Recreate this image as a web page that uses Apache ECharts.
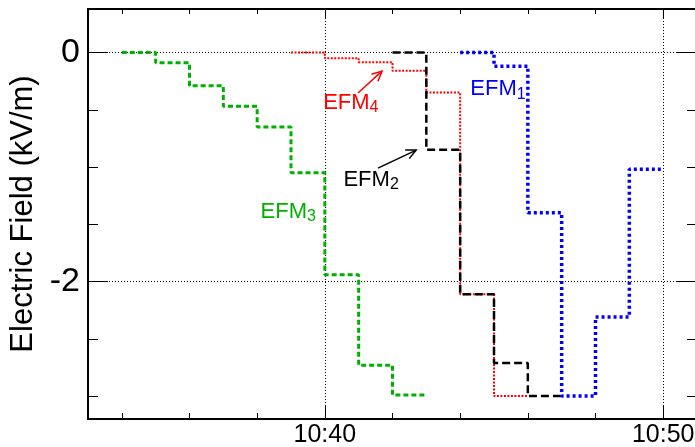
<!DOCTYPE html>
<html>
<head>
<meta charset="utf-8">
<script src="https://cdn.jsdelivr.net/npm/echarts@6/dist/echarts.min.js"></script>
</head>
<body style="margin: 0">
<div id="main" style="width: 695px; height: 447px"></div>
<script type="text/javascript">
    // step values, each value holds from its time until the next one
    var efm1Times = ['10:44', '10:45', '10:46', '10:47', '10:48', '10:49', '10:50'];
    var efm1Values = [0, -0.12, -1.40, -3.0, -2.31, -1.02, -1.02];
    var efm2Times = ['10:42', '10:43', '10:44', '10:45', '10:46', '10:47'];
    var efm2Values = [0, -0.85, -2.11, -2.71, -3.0, -3.0];
    var efm3Times = ['10:34', '10:35', '10:36', '10:37', '10:38', '10:39', '10:40', '10:41', '10:42', '10:43'];
    var efm3Values = [0, -0.09, -0.29, -0.47, -0.65, -1.05, -1.94, -2.73, -2.99, -2.99];
    var efm4Times = ['10:39', '10:40', '10:41', '10:42', '10:43', '10:44', '10:45', '10:46'];
    var efm4Values = [0, -0.05, -0.085, -0.16, -0.35, -2.11, -3.0, -3.0];

    var xLabelTimes = ['10:40', '10:50'];
    var xMinorTimes = ['10:34', '10:36', '10:38', '10:42', '10:44', '10:46', '10:48'];
    var yLabelValues = [0, -2];
    var yMinorValues = [-0.5, -1, -1.5, -2.5, -3];

    // annotation text / arrows, in axis units (minutes of day, kV/m)
    var labelText = ['EFM', 'EFM', 'EFM', 'EFM'];
    var labelSub = ['1', '2', '3', '4'];
    var labelColor = ['#0000ff', '#000000', '#00b000', '#ff0000'];
    var labelPos = [[644.3, -0.32], [640.55, -1.11], [638.1, -1.39], [639.95, -0.44]];
    var arrowFrom = [[640.98, -0.354], [641.57, -1.009]];
    var arrowTo = [[641.69, -0.162], [642.70, -0.852]];
    var arrowColor = ['#ff0000', '#000000'];

    var FONT = 'Liberation Sans, Arial, Helvetica, sans-serif';

    function toMin(s) {
        var p = s.split(':');
        return (+p[0]) * 60 + (+p[1]);
    }
    function fmtTime(v) {
        var h = Math.floor(v / 60), m = Math.round(v - h * 60);
        return h + ':' + (m < 10 ? '0' : '') + m;
    }
    function pairs(times, values) {
        return times.map(function (t, i) { return [toMin(t), values[i]]; });
    }

    var xMin = toMin('10:33'), xMax = toMin('10:51');

    function xAxisDef(pos, ticks, len, main) {
        return {
            type: 'value', position: pos, min: xMin, max: xMax,
            axisLine: { show: main || pos === 'top', onZero: false, lineStyle: { color: '#000', width: 2 } },
            axisTick: { customValues: ticks, inside: true, length: len, lineStyle: { color: '#000', width: 1 } },
            axisLabel: main ? {
                customValues: ticks, formatter: fmtTime, fontSize: 25, color: '#000',
                fontFamily: FONT, margin: 4
            } : { show: false },
            splitLine: { show: !!main, lineStyle: { color: '#000', width: 1, type: [1, 2] } }
        };
    }
    function yAxisDef(pos, ticks, len, main) {
        return {
            type: 'value', position: pos, min: -3.2, max: 0.38,
            name: main ? 'Electric Field (kV/m)' : '',
            nameLocation: 'middle', nameRotate: 90, nameGap: 47,
            nameTextStyle: { fontSize: 31, color: '#000', fontFamily: FONT },
            axisLine: { show: main || pos === 'right', onZero: false, lineStyle: { color: '#000', width: 2 } },
            axisTick: { customValues: ticks, inside: true, length: len, lineStyle: { color: '#000', width: 1 } },
            axisLabel: main ? {
                customValues: ticks, fontSize: 34, color: '#000', fontFamily: FONT, margin: 8
            } : { show: false },
            splitLine: { show: !!main, lineStyle: { color: '#000', width: 1, type: [1, 2] } }
        };
    }

    var xMajor = xLabelTimes.map(toMin);
    var xMinor = xMinorTimes.map(toMin);

    function stepSeries(name, times, values, color, width, dash) {
        return {
            name: name, type: 'line', step: 'end', data: pairs(times, values),
            symbol: 'none', animation: false, xAxisIndex: 0, yAxisIndex: 0,
            lineStyle: { color: color, width: width, type: dash }
        };
    }

    var myChart = echarts.init(document.getElementById('main'));
    myChart.setOption({
        backgroundColor: '#fff',
        animation: false,
        grid: { left: 88, right: -2, top: 9, bottom: 28, containLabel: false, outerBoundsMode: 'none' },
        xAxis: [
            xAxisDef('bottom', xMajor, 14, true),
            xAxisDef('bottom', xMinor, 6, false),
            xAxisDef('top', xMajor, 10, false),
            xAxisDef('top', xMinor, 5, false)
        ],
        yAxis: [
            yAxisDef('left', yLabelValues, 20, true),
            yAxisDef('left', yMinorValues, 10, false),
            yAxisDef('right', yLabelValues, 20, false),
            yAxisDef('right', yMinorValues, 10, false)
        ],
        series: [
            stepSeries('EFM3', efm3Times, efm3Values, '#00b000', 3, [5, 3]),
            stepSeries('EFM4', efm4Times, efm4Values, '#ff0000', 2, [2, 1.5]),
            stepSeries('EFM2', efm2Times, efm2Values, '#000000', 2.5, [8, 4]),
            stepSeries('EFM1', efm1Times, efm1Values, '#0000ff', 3.5, [3, 3])
        ]
    });

    // annotations placed through the grid's own scales
    var graphics = [];
    function px(p) {
        return myChart.convertToPixel({ xAxisIndex: 0, yAxisIndex: 0 }, p);
    }
    for (var i = 0; i < labelText.length; i++) {
        var p = px(labelPos[i]);
        graphics.push({
            type: 'text', x: p[0], y: p[1], z: 100,
            style: {
                text: '{a|' + labelText[i] + '}{b|' + labelSub[i] + '}',
                align: 'left', verticalAlign: 'middle',
                rich: {
                    a: { fontSize: 22, fontFamily: FONT, fill: labelColor[i], lineHeight: 26, verticalAlign: 'middle' },
                    b: { fontSize: 16, fontFamily: FONT, fill: labelColor[i], lineHeight: 26, verticalAlign: 'bottom' }
                }
            }
        });
    }
    for (var j = 0; j < arrowFrom.length; j++) {
        var a = px(arrowFrom[j]), b = px(arrowTo[j]);
        var ang = Math.atan2(b[1] - a[1], b[0] - a[0]), L = 11, s = 0.45;
        graphics.push({
            type: 'line', z: 100,
            shape: { x1: a[0], y1: a[1], x2: b[0], y2: b[1] },
            style: { stroke: arrowColor[j], lineWidth: 1.5 }
        });
        graphics.push({
            type: 'polyline', z: 100,
            shape: { points: [
                [b[0] - L * Math.cos(ang - s), b[1] - L * Math.sin(ang - s)],
                [b[0], b[1]],
                [b[0] - L * Math.cos(ang + s), b[1] - L * Math.sin(ang + s)]
            ] },
            style: { stroke: arrowColor[j], lineWidth: 1.5, fill: null }
        });
    }
    myChart.setOption({ graphic: graphics });
</script>
</body>
</html>
